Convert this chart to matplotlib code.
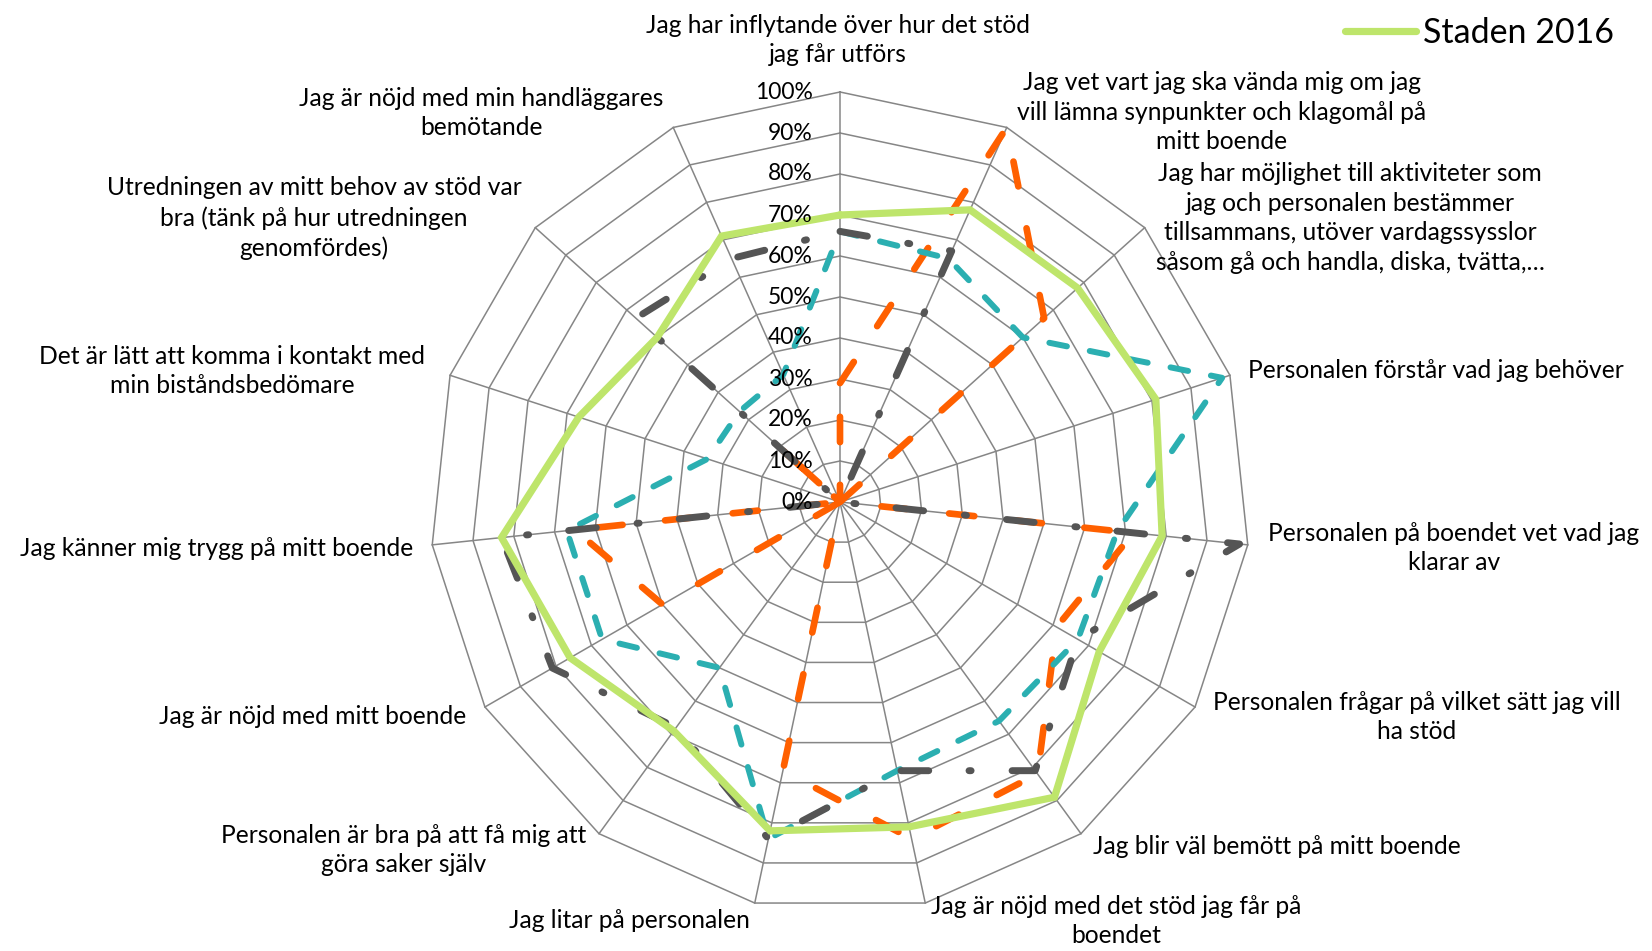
import numpy as np
import matplotlib
matplotlib.use("Agg")
import matplotlib.pyplot as plt

# ---------------- data ----------------
categories = [
    "Jag har inflytande över hur det stöd\njag får utförs",
    "Jag vet vart jag ska vända mig om jag\nvill lämna synpunkter och klagomål på\nmitt boende",
    "Jag har möjlighet till aktiviteter som\njag och personalen bestämmer\ntillsammans, utöver vardagssysslor\nsåsom gå och handla, diska, tvätta,…",
    "Personalen förstår vad jag behöver",
    "Personalen på boendet vet vad jag\nklarar av",
    "Personalen frågar på vilket sätt jag vill\nha stöd",
    "Jag blir väl bemött på mitt boende",
    "Jag är nöjd med det stöd jag får på\nboendet",
    "Jag litar på personalen",
    "Personalen är bra på att få mig att\ngöra saker själv",
    "Jag är nöjd med mitt boende",
    "Jag känner mig trygg på mitt boende",
    "Det är lätt att komma i kontakt med\nmin biståndsbedömare",
    "Utredningen av mitt behov av stöd var\nbra (tänk på hur utredningen\ngenomfördes)",
    "Jag är nöjd med min handläggares\nbemötande",
]

staden_2016 = [70, 78, 78, 81, 79, 73, 89, 81, 82, 69, 76, 83, 67, 60, 71]
serie_teal = [66, 65, 60, 98, 68, 67, 66, 67, 84, 50, 67, 67, 34, 33, 34]
serie_gray = [66, 67, 0, 0, 98, 67, 81, 67, 84, 68, 81, 83, 0, 67, 65]
serie_orange = [29, 100, 67, 0, 72, 61, 82, 84, 67, 0, 50, 65, 0, 21, 0]

tick_values = [0, 10, 20, 30, 40, 50, 60, 70, 80, 90, 100]
tick_labels = ["0%", "10%", "20%", "30%", "40%", "50%", "60%", "70%", "80%", "90%", "100%"]
legend_label = "Staden 2016"

# ---------------- figure ----------------
W, H, DPI = 1652, 951, 100
fig = plt.figure(figsize=(W / DPI, H / DPI), dpi=DPI)
plt.rcParams['font.family'] = ['Lato', 'DejaVu Sans']

cx, cy, R = 840, 502, 410  # pixel centre and radius
ax = fig.add_axes([(cx - R) / W, (H - cy - R) / H, 2 * R / W, 2 * R / H],
                  projection='polar')
ax.set_theta_zero_location('N')
ax.set_theta_direction(-1)
ax.set_ylim(0, 100)
ax.grid(False)
ax.set_xticks([])
ax.set_yticks([])
ax.spines['polar'].set_visible(False)
ax.patch.set_visible(False)

n = len(categories)
theta = np.linspace(0, 2 * np.pi, n, endpoint=False)
theta_c = np.append(theta, theta[0])

grid_col = '#868686'
for tv in tick_values[1:]:
    ax.plot(theta_c, [tv] * (n + 1), color=grid_col, lw=1.1, zorder=1, clip_on=False)
for t in theta:
    ax.plot([t, t], [0, 100], color=grid_col, lw=1.1, zorder=1, clip_on=False)


def closed(v):
    return list(v) + [v[0]]


ax.plot(theta_c, closed(serie_orange), color='#FF6000', lw=4.8,
        linestyle=(0, (3.8, 6.4)), dash_capstyle='round', solid_joinstyle='round',
        zorder=2, clip_on=False, label='_orange')
ax.plot(theta_c, closed(serie_teal), color='#2BAFB1', lw=4.3,
        linestyle=(0, (3.0, 3.9)), dash_capstyle='round', solid_joinstyle='round',
        zorder=3, clip_on=False, label='_teal')
ax.plot(theta_c, closed(serie_gray), color='#555555', lw=5.0,
        linestyle=(0, (4.0, 5.9, 0.3, 5.8)), dash_capstyle='round', solid_joinstyle='round',
        zorder=4, clip_on=False, label='_gray')
green_line, = ax.plot(theta_c, closed(staden_2016), color='#BEE56B', lw=5.2,
                      solid_joinstyle='miter', solid_capstyle='round',
                      zorder=5, clip_on=False, label=legend_label)

# radial tick labels
for tv, tl in zip(tick_values, tick_labels):
    ax.annotate(tl, xy=(0, tv), xytext=(-19.5, 0), textcoords='offset points',
                ha='right', va='center', fontsize=16.5, color='black', zorder=6,
                annotation_clip=False)

# category labels (pixel positions of label centres)
label_pos = [
    (838, 40), (1222, 112), (1350, 218), (1436, 371), (1454, 548),
    (1417, 717), (1277, 847), (1116, 921), (629, 921), (404, 850),
    (313, 717), (217, 548), (232, 371), (314, 218), (481, 113),
]
for txt, (px, py) in zip(categories, label_pos):
    fig.text(px / W, 1 - py / H, txt, ha='center', va='center',
             multialignment='center', fontsize=17.7, linespacing=1.34, color='black')

# legend
fig.legend(handles=[green_line], labels=[legend_label], loc='center left',
           bbox_to_anchor=(1345 / W, 1 - 33 / H), frameon=False, fontsize=24.5,
           handlelength=2.1, handletextpad=0.2, borderaxespad=0, borderpad=0)

fig.savefig('out.png', dpi=DPI)
